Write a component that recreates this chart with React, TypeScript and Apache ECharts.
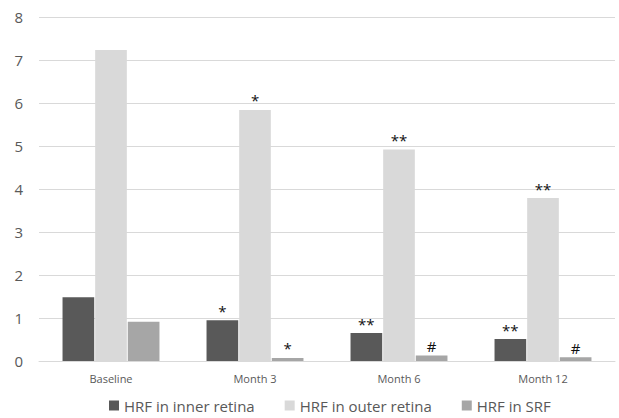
import React, { useEffect, useRef } from "react";
import * as echarts from "echarts";

const categories = ["Baseline", "Month 3", "Month 6", "Month 12"];
const innerRetina = [1.48, 0.95, 0.65, 0.51];
const outerRetina = [7.23, 5.84, 4.92, 3.79];
const srf = [0.91, 0.07, 0.13, 0.09];
const innerMarks = ["", "*", "**", "**"];
const outerMarks = ["", "*", "**", "**"];
const srfMarks = ["", "*", "#", "#"];

const FONT = "'Open Sans', sans-serif";

function mkSeries(name: string, data: number[], marks: string[], color: string) {
  return {
    name,
    type: "bar",
    data,
    barWidth: "22%",
    barGap: "3%",
    itemStyle: { color },
    label: {
      show: true,
      position: "top",
      distance: 2,
      color: "#111",
      fontSize: 15,
      fontFamily: FONT,
      formatter: (p: any) => marks[p.dataIndex],
    },
  };
}

export default function App() {
  const ref = useRef<HTMLDivElement>(null);
  useEffect(() => {
    const chart = echarts.init(ref.current!, null, { renderer: "svg" });
    chart.setOption({
      animation: false,
      backgroundColor: "#fff",
      grid: { left: 39, right: 4, top: 17, bottom: 57 },
      xAxis: {
        type: "category",
        data: categories,
        axisLine: { lineStyle: { color: "#d9d9d9", width: 1 } },
        axisTick: { show: false },
        axisLabel: { color: "#595959", fontSize: 11, fontFamily: FONT, margin: 12 },
      },
      yAxis: {
        type: "value",
        min: 0,
        max: 8,
        interval: 1,
        axisLine: { show: false },
        axisTick: { show: false },
        splitLine: { lineStyle: { color: "#d9d9d9", width: 1 } },
        axisLabel: { color: "#595959", fontSize: 15, fontFamily: FONT, margin: 16 },
      },
      legend: {
        bottom: 0,
        left: 104,
        icon: "rect",
        itemWidth: 10,
        itemHeight: 10,
        itemGap: 30,
        textStyle: { color: "#595959", fontSize: 15, fontFamily: FONT },
        data: ["HRF in inner retina", "HRF in outer retina", "HRF in SRF"],
      },
      series: [
        mkSeries("HRF in inner retina", innerRetina, innerMarks, "#595959"),
        mkSeries("HRF in outer retina", outerRetina, outerMarks, "#d9d9d9"),
        mkSeries("HRF in SRF", srf, srfMarks, "#a6a6a6"),
      ],
    });
    return () => chart.dispose();
  }, []);
  return <div ref={ref} style={{ width: 619, height: 418, position: "absolute", left: 0, top: 0 }} />;
}
